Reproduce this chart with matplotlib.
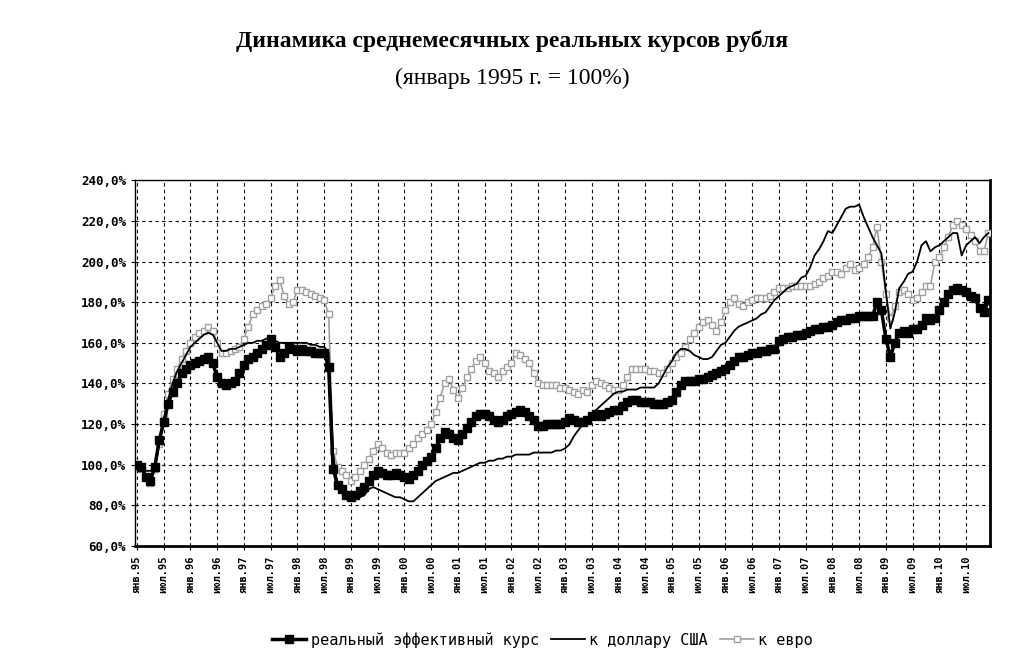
import matplotlib
matplotlib.use("Agg")
import matplotlib.pyplot as plt
import numpy as np

years = list(range(1995, 2011))
tick_labels = []
for y in years:
    tick_labels += [f"янв.{y%100:02d}", f"июл.{y%100:02d}"]

reer = [
 100,99,94,92,99,112,121,130,136,140,145,147,
 149,150,151,152,153,150,143,140,139,140,141,145,
 149,152,153,155,157,159,162,158,153,155,158,157,
 156,157,156,156,155,155,155,148,98,90,88,85,
 84,85,87,89,92,95,97,96,95,95,96,95,
 94,93,95,97,100,102,104,108,113,116,115,113,
 112,115,118,121,124,125,125,124,122,121,122,124,
 125,126,127,126,124,122,119,119,120,120,120,120,
 121,123,122,121,121,122,124,125,124,125,126,127,
 127,129,131,132,132,131,131,131,130,130,130,131,
 132,136,139,141,141,141,142,142,143,144,145,146,
 147,149,151,153,153,154,155,155,156,156,157,157,
 161,162,163,163,164,164,165,166,167,167,168,168,
 169,170,171,171,172,172,173,173,173,173,180,176,
 162,153,160,165,166,165,167,167,169,172,171,172,
 176,180,184,186,187,186,185,183,182,177,175,181]

usd = [
 100,99,97,97,99,110,122,132,140,146,150,154,
 158,160,162,164,165,164,160,156,156,157,157,158,
 159,160,160,161,161,162,162,161,160,160,160,160,
 160,160,160,159,159,158,158,155,105,90,86,86,
 86,85,84,85,88,89,88,87,86,85,84,84,
 83,82,82,84,86,88,90,92,93,94,95,96,
 96,97,98,99,100,101,101,102,102,103,103,104,
 104,105,105,105,105,106,106,106,106,106,107,107,
 108,110,114,117,120,123,125,127,129,131,133,135,
 136,136,137,137,137,138,138,138,138,140,144,148,
 151,155,157,157,156,154,153,152,152,153,156,159,
 160,163,166,168,169,170,171,172,174,175,178,181,
 183,185,187,188,189,192,193,197,203,206,210,215,
 214,218,222,226,227,227,228,222,217,212,208,204,
 185,167,175,187,190,194,195,200,208,210,205,207,
 208,210,212,214,214,203,208,210,212,209,212,214]

eur = [
 100,98,94,91,98,110,125,135,142,147,152,156,
 160,163,165,166,168,166,160,155,155,156,157,158,
 162,168,174,176,178,179,182,188,191,183,179,180,
 186,186,185,184,183,182,181,174,107,99,97,95,
 92,94,97,100,103,107,110,108,106,105,106,106,
 106,108,110,113,115,117,120,126,133,140,142,137,
 133,138,143,147,151,153,150,146,145,143,146,148,
 150,155,154,152,150,145,140,139,139,139,139,138,
 138,137,136,135,137,136,139,141,140,139,138,137,
 137,139,143,147,147,147,147,146,146,145,145,147,
 150,153,155,158,162,165,168,170,171,169,166,170,
 176,180,182,179,178,180,181,182,182,182,183,185,
 187,187,187,188,188,188,188,188,189,190,192,193,
 195,195,194,197,199,196,197,199,202,207,217,200,
 184,172,178,185,186,184,181,182,185,188,188,200,
 202,207,212,218,220,218,216,213,210,205,205,214]

x = np.arange(len(reer))

fig = plt.figure(figsize=(10.24, 6.70), dpi=100)
ax = fig.add_axes([0.132, 0.185, 0.835, 0.546])

ax.plot(x, eur, color="#a0a0a0", lw=1.2, marker="s", ms=5, mfc="white",
        mec="#a0a0a0", mew=1.0, label="к евро", zorder=3)
ax.plot(x, usd, color="black", lw=1.3, label="к доллару США", zorder=4)
ax.plot(x, reer, color="black", lw=2.5, marker="s", ms=6, mfc="black",
        mec="black", label="реальный эффективный курс", zorder=5)

ax.set_xlim(-0.4, 191.4)
ax.set_ylim(60, 240)
ax.set_yticks(np.arange(60, 241, 20))
ax.set_yticklabels([f"{v},0%" for v in range(60, 241, 20)],
                   fontfamily="DejaVu Sans Mono", fontsize=9, fontweight="bold")
ax.set_xticks(np.arange(0, 192, 6))
ax.set_xticklabels(tick_labels, rotation=90, fontfamily="DejaVu Sans Mono",
                   fontsize=7.5, fontweight="bold")
ax.grid(True, color="black", ls=(0, (3, 3)), lw=0.8)
for s in ax.spines.values():
    s.set_linewidth(1.0)
ax.spines["bottom"].set_linewidth(2)
ax.spines["right"].set_linewidth(2)
ax.tick_params(length=3)

h, l = ax.get_legend_handles_labels()
fig.legend(h[::-1], l[::-1], loc="center", bbox_to_anchor=(0.53, 0.045), ncol=3,
           frameon=False, prop={"family": "DejaVu Sans Mono", "size": 11},
           handlelength=2.2, columnspacing=0.8, handletextpad=0.3)

fig.text(0.5, 0.93, "Динамика среднемесячных реальных курсов рубля",
         ha="center", fontfamily="Liberation Serif", fontsize=17, fontweight="bold")
fig.text(0.5, 0.875, "(январь 1995 г. = 100%)", ha="center",
         fontfamily="Liberation Serif", fontsize=17)

fig.savefig("out.png", dpi=100)
